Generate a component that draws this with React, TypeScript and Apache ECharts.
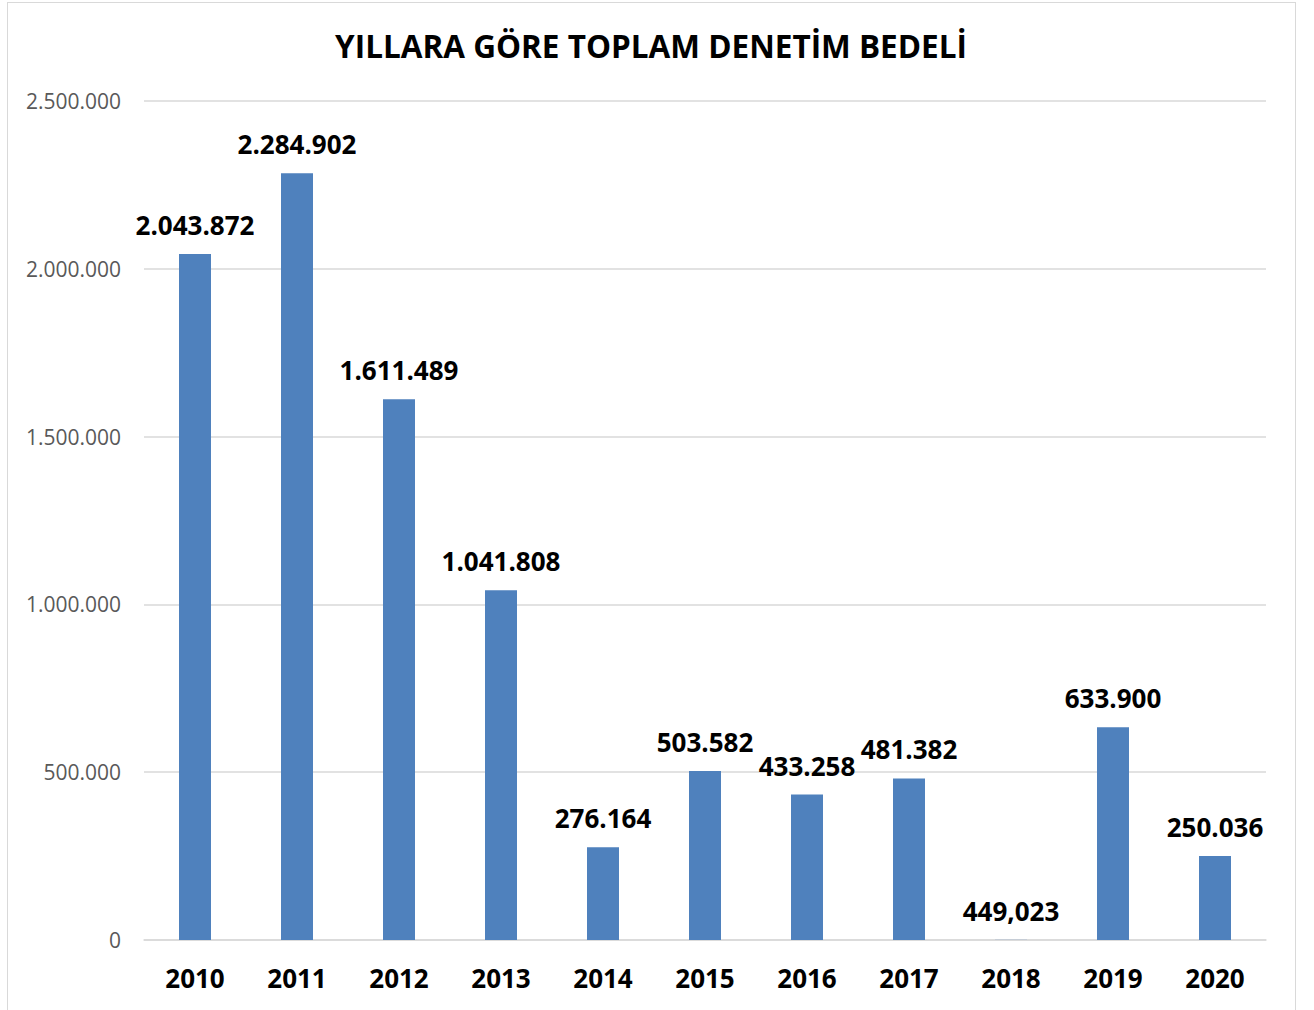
import React, { useEffect, useRef } from "react";
import * as echarts from "echarts";

const titleText = "YILLARA GÖRE TOPLAM DENETİM BEDELİ";
const years = ["2010", "2011", "2012", "2013", "2014", "2015", "2016", "2017", "2018", "2019", "2020"];
const values = [2043872, 2284902, 1611489, 1041808, 276164, 503582, 433258, 481382, 449.023, 633900, 250036];
const yTicks = [0, 500000, 1000000, 1500000, 2000000, 2500000];

function fmt(v: number): string {
  const neg = v < 0;
  const abs = Math.abs(v);
  const intPart = Math.floor(abs);
  const frac = abs - intPart;
  const s = String(intPart).replace(/\B(?=(\d{3})+(?!\d))/g, ".");
  let out = s;
  if (frac > 1e-9) {
    const f = abs.toFixed(3).split(".")[1];
    out = s + "," + f;
  }
  return (neg ? "-" : "") + out;
}

export default function App() {
  const ref = useRef<HTMLDivElement>(null);
  useEffect(() => {
    if (!ref.current) return;
    const chart = echarts.init(ref.current, undefined, { renderer: "svg" });
    const font = "'Open Sans', 'Noto Sans', sans-serif";
    chart.setOption({
      animation: false,
      backgroundColor: "transparent",
      grid: { left: 144, right: 48, top: 101, bottom: 70, containLabel: false },
      graphic: [
        {
          type: "text",
          x: 651,
          y: 45,
          style: {
            text: titleText,
            textAlign: "center",
            textVerticalAlign: "middle",
            fontFamily: font,
            fontWeight: "bold",
            fontSize: 31.5,
            fill: "#000000",
          },
        },
      ],
      xAxis: {
        type: "category",
        data: years,
        axisLine: { show: true, lineStyle: { color: "#d9d9d9", width: 1.5 } },
        axisTick: { show: false },
        axisLabel: {
          color: "#000000",
          fontFamily: font,
          fontWeight: "bold",
          fontSize: 26,
          margin: 25,
        },
      },
      yAxis: {
        type: "value",
        min: yTicks[0],
        max: yTicks[yTicks.length - 1],
        interval: yTicks[1] - yTicks[0],
        axisLine: { show: false },
        axisTick: { show: false },
        splitLine: { lineStyle: { color: "#d9d9d9", width: 1.5 } },
        axisLabel: {
          color: "#595959",
          fontFamily: font,
          fontSize: 21,
          margin: 23,
          formatter: (v: number) => fmt(v),
        },
      },
      series: [
        {
          type: "bar",
          data: values,
          barWidth: 32,
          itemStyle: { color: "#4f81bd" },
          label: {
            show: true,
            position: "top",
            distance: 16,
            color: "#000000",
            fontFamily: font,
            fontWeight: "bold",
            fontSize: 26,
            formatter: (p: any) => fmt(p.value),
          },
        },
      ],
    });
    return () => chart.dispose();
  }, []);
  return (
    <div>
      <div
        style={{
          position: "absolute",
          left: 7,
          top: 2,
          width: 1289,
          height: 1020,
          border: "1.5px solid #d9d9d9",
          boxSizing: "border-box",
        }}
      />
      <div ref={ref} style={{ position: "absolute", left: 0, top: 0, width: 1314, height: 1010 }} />
    </div>
  );
}
